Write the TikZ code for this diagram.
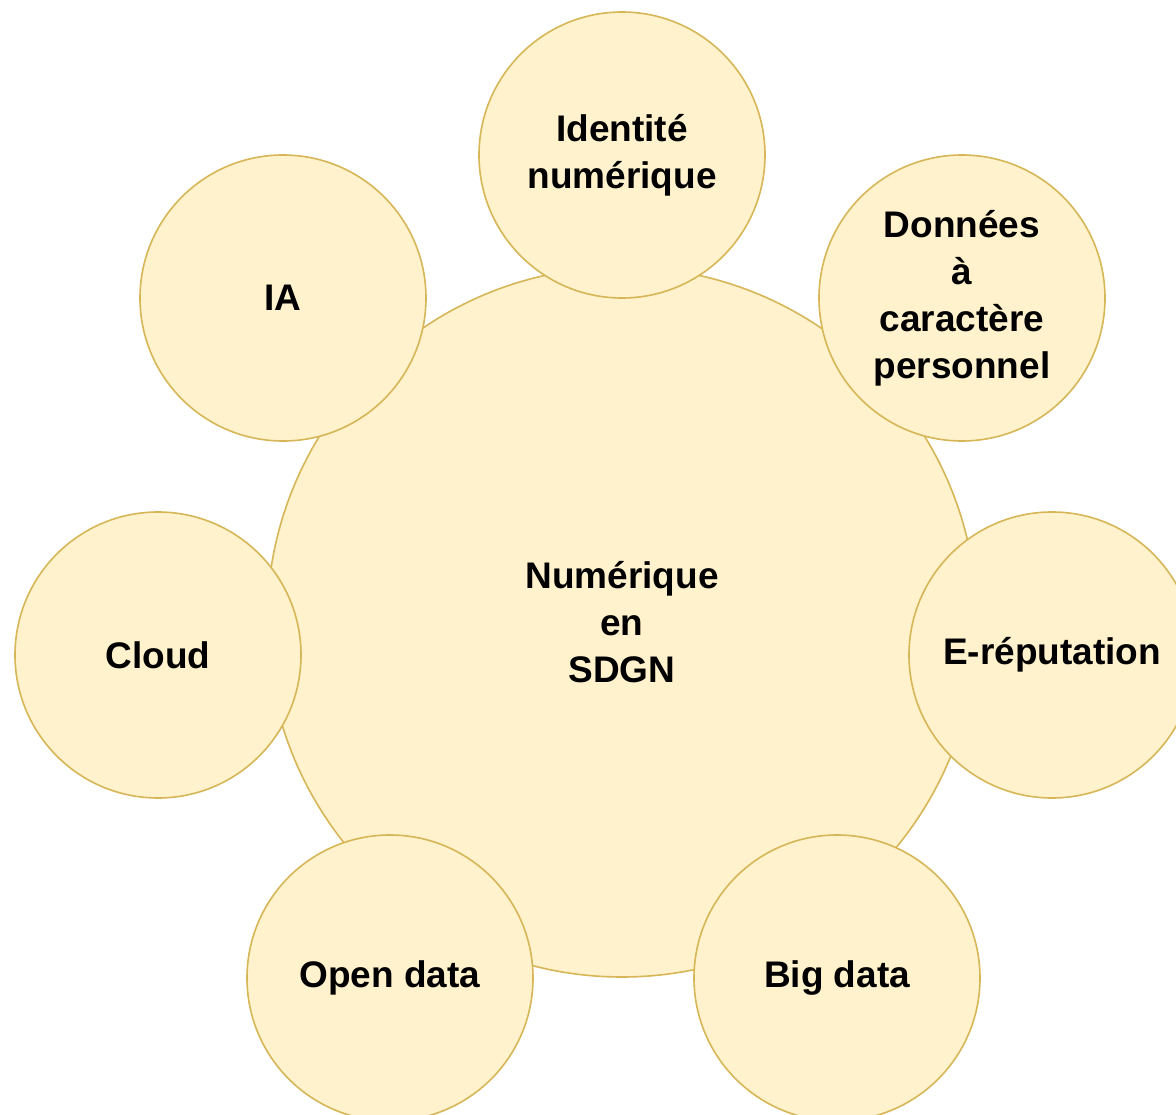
\documentclass[tikz,border=0pt]{standalone}
\usepackage{fontspec}
\setmainfont{Liberation Sans}
\usepackage{tikz}
\definecolor{fondjaune}{HTML}{FFF2CC}
\definecolor{traitjaune}{HTML}{D6B656}
\begin{document}
\begin{tikzpicture}[x=1pt,y=-1pt,line width=1.6pt,
  bulle/.style={circle,draw=traitjaune,fill=fondjaune,inner sep=0pt,
    minimum size=286pt,align=center,
    font=\fontsize{37}{47}\selectfont\bfseries},
  centre/.style={bulle,minimum size=710pt}]
\useasboundingbox (0,0) rectangle (1176,1115);
\clip (0,0) rectangle (1176,1115);
\node[centre] (N) at (622,622) {Numérique\\en\\SDGN};
% satellites
\node[bulle] (I) at (622,155) {Identité\\numérique};
\node[bulle] (D) at (962,298) {Données\\à\\caractère\\personnel};
\node[bulle] (E) at (1052,655) {E-réputation};
\node[bulle] (B) at (837,978) {Big data};
\node[bulle] (O) at (390,978) {Open data};
\node[bulle] (C) at (158,655) {Cloud};
\node[bulle] (A) at (283,298) {IA};
\end{tikzpicture}
\end{document}
